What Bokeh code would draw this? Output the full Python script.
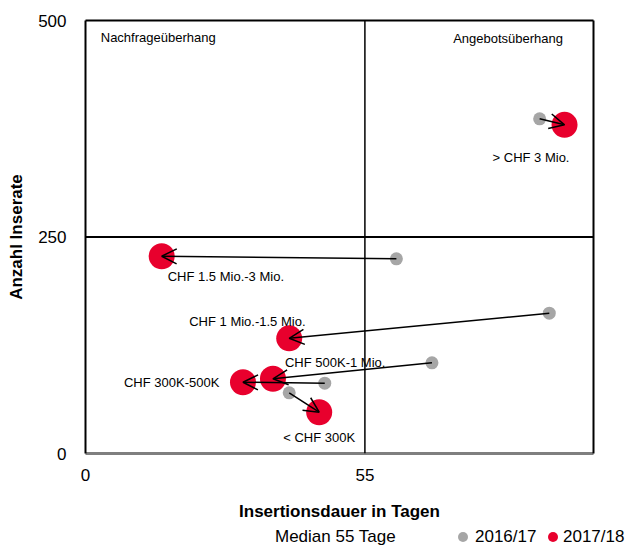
from bokeh.plotting import figure
from bokeh.layouts import column
from bokeh.models import (ColumnDataSource, Arrow, OpenHead, Span, Label, Div,
                          LinearAxis, FixedTicker, Range1d)
from bokeh.core.properties import value
from bokeh.embed import file_html
from bokeh.resources import INLINE

# ---- data ----
categories = ["> CHF 3 Mio.", "CHF 1.5 Mio.-3 Mio.", "CHF 1 Mio.-1.5 Mio.",
              "CHF 500K-1 Mio.", "CHF 300K-500K", "< CHF 300K"]
dauer_2016 = [89.4, 61.2, 91.3, 68.2, 47.1, 40.1]
inserate_2016 = [386.5, 224.8, 162.0, 104.7, 81.2, 70.1]
dauer_2017 = [94.3, 15.0, 40.1, 36.9, 31.0, 46.0]
inserate_2017 = [379.5, 227.8, 133.0, 86.3, 82.3, 47.7]
x_ticks = [0, 55]
y_ticks = [0, 250, 500]
median_dauer = 55
median_inserate = 250
series_labels = ["2016/17", "2017/18"]
median_note = "Median 55 Tage"

# label placement (pixels relative to 2017/18 point)
label_dx = [-72, 6, -100, 12, -119, -36]
label_dy = [33, 20, -17, -16, 0, 25]

FONT = "Liberation Sans"
RED = "#E8002D"
GRAY = "#A6A6A6"

src = ColumnDataSource(dict(cat=categories, x16=dauer_2016, y16=inserate_2016,
                            x17=dauer_2017, y17=inserate_2017,
                            dx=label_dx, dy=label_dy))

p = figure(width=629, height=526, output_backend="svg", toolbar_location=None,
           x_range=Range1d(0, 100), y_range=Range1d(0, 500),
           min_border_left=85, min_border_right=36, min_border_top=20,
           min_border_bottom=73)
p.outline_line_color = None
p.grid.visible = False
p.background_fill_color = "white"
p.border_fill_color = "white"

# axes
p.xaxis.ticker = FixedTicker(ticks=x_ticks)
p.yaxis.ticker = FixedTicker(ticks=y_ticks)
for ax in (p.xaxis[0], p.yaxis[0]):
    ax.major_tick_line_color = None
    ax.minor_tick_line_color = None
    ax.major_tick_out = 0
    ax.major_tick_in = 0
    ax.major_label_text_font = FONT
    ax.major_label_text_font_size = "17px"
    ax.major_label_text_color = "black"
    ax.axis_label_text_font = FONT
    ax.axis_label_text_font_size = "17px"
    ax.axis_label_text_font_style = "bold"
    ax.axis_label_text_color = "black"
p.xaxis.axis_label = "Insertionsdauer in Tagen"
p.yaxis.axis_label = "Anzahl Inserate"
p.xaxis.axis_line_color = "#7F7F7F"
p.xaxis.axis_line_width = 3
p.yaxis.axis_line_color = "black"
p.yaxis.axis_line_width = 2
p.xaxis.major_label_standoff = 15
p.yaxis.major_label_standoff = 19
p.xaxis.axis_label_standoff = 18
p.yaxis.axis_label_standoff = 9

for loc in ("above", "right"):
    a = LinearAxis(ticker=FixedTicker(ticks=[]), major_label_text_font_size="0px",
                   major_tick_line_color=None, minor_tick_line_color=None,
                   axis_line_color="black", axis_line_width=2)
    p.add_layout(a, loc)

# median lines
p.add_layout(Span(location=median_dauer, dimension="height", line_color="black", line_width=1.5))
p.add_layout(Span(location=median_inserate, dimension="width", line_color="black", line_width=2))

# points
r17 = p.scatter("x17", "y17", source=src, size=26, fill_color=RED, line_color=None)
r16 = p.scatter("x16", "y16", source=src, size=13, fill_color=GRAY, line_color=None)

# arrows
p.add_layout(Arrow(source=src, x_start="x16", y_start="y16", x_end="x17", y_end="y17",
                   line_color="black", line_width=1.5,
                   end=OpenHead(size=15, line_width=1.5, line_color="black")))

# category labels
p.text("x17", "y17", text="cat", source=src, x_offset="dx", y_offset="dy",
       text_font=value(FONT), text_font_size="13px", text_color="black",
       text_baseline="middle", text_align="left")

# quadrant labels
p.add_layout(Label(x=3.0, y=480, text="Nachfrageüberhang", text_font=FONT,
                   text_font_size="13px", text_color="black",
                   text_baseline="middle", text_align="left"))
p.add_layout(Label(x=94.0, y=479, text="Angebotsüberhang", text_font=FONT,
                   text_font_size="13px", text_color="black",
                   text_baseline="middle", text_align="right"))

# ---- footer: median note + legend ----
base = ("position:absolute; font-family:'Liberation Sans'; font-size:17px; "
        "color:black; line-height:20px; top:1px; white-space:nowrap;")
dot = "position:absolute; top:6px; width:10px; height:10px; border-radius:50%;"
footer_html = (
    '<div style="position:relative; width:629px; height:20px; margin:0;">'
    f'<span style="{base} left:275px;">{median_note}</span>'
    f'<span style="{dot} left:458px; background:{GRAY};"></span>'
    f'<span style="{base} left:475px;">{series_labels[0]}</span>'
    f'<span style="{dot} left:548px; background:{RED};"></span>'
    f'<span style="{base} left:563px;">{series_labels[1]}</span>'
    '</div>'
)
footer = Div(text=footer_html, width=629, height=20, margin=(0, 0, 0, 0))

layout = column(p, footer, spacing=0)
open("out.html", "w").write(file_html(layout, INLINE))
